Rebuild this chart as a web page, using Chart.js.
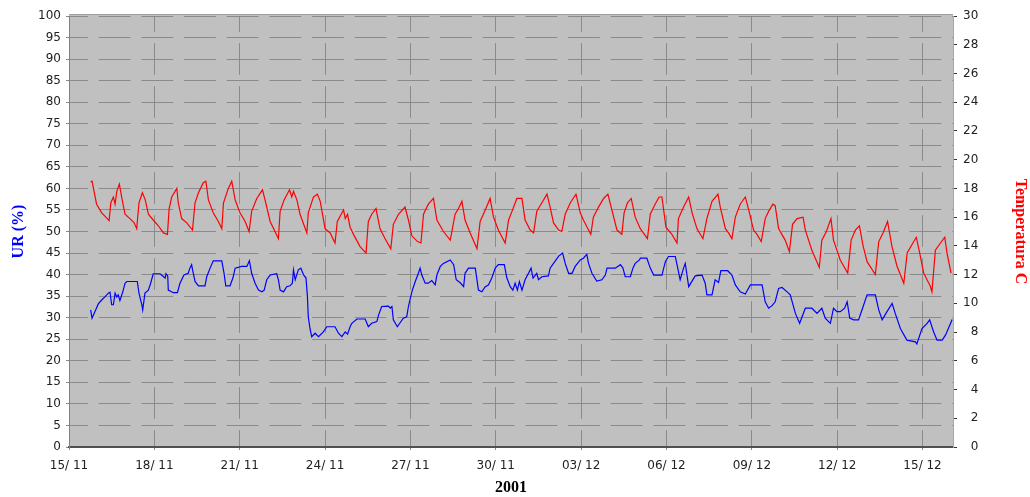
<!DOCTYPE html>
<html lang="pt">
<head>
    <meta charset="UTF-8">
    <title>UR e Temperatura - 2001</title>
    <script src="https://cdn.jsdelivr.net/npm/chart.js"></script>
    <style>
        body {
            margin: 0;
            padding: 0;
            background: #fff;
        }
        #wrap {
            position: relative;
            width: 1030px;
            height: 497px;
        }
    </style>
</head>
<body>

<div id="wrap">
    <canvas id="climaChart"></canvas>
</div>

<script>
    // x values are days counted from 15/11 00:00
    const xTickDays = [0, 3, 6, 9, 12, 15, 18, 21, 24, 27, 30];
    const xTickLabels = ['15/ 11', '18/ 11', '21/ 11', '24/ 11', '27/ 11', '30/ 11',
                         '03/ 12', '06/ 12', '09/ 12', '12/ 12', '15/ 12'];

    // temperature (C), right axis
    const tempDays = [
        0.76,0.81,0.97,1.15,1.27,1.41,1.47,1.56,1.62,1.68,
        1.77,1.85,1.97,2.14,2.29,2.38,2.46,2.58,2.68,2.79,
        2.96,3.14,3.32,3.46,3.52,3.61,3.79,3.84,3.96,4.14,
        4.34,4.43,4.55,4.72,4.81,4.90,5.07,5.25,5.37,5.43,
        5.60,5.72,5.84,6.01,6.19,6.33,6.42,6.60,6.80,6.89,
        7.07,7.24,7.36,7.42,7.56,7.75,7.83,7.89,8.01,8.12,
        8.36,8.41,8.59,8.73,8.83,9.00,9.18,9.35,9.43,9.65,
        9.71,9.79,9.88,10.00,10.23,10.44,10.52,10.64,10.79,10.93,
        11.11,11.31,11.40,11.58,11.81,11.93,12.05,12.25,12.37,12.46,
        12.63,12.81,12.93,13.16,13.40,13.57,13.69,13.81,13.92,14.10,
        14.34,14.45,14.63,14.80,14.92,15.09,15.33,15.45,15.57,15.74,
        15.92,16.03,16.21,16.33,16.44,16.62,16.80,16.91,17.03,17.21,
        17.32,17.44,17.62,17.82,17.97,18.08,18.26,18.34,18.43,18.61,
        18.79,18.94,19.08,19.26,19.43,19.51,19.63,19.76,19.90,20.08,
        20.33,20.43,20.60,20.74,20.84,20.98,21.19,21.37,21.42,21.60,
        21.78,21.90,22.07,22.28,22.42,22.60,22.81,22.89,23.07,23.18,
        23.30,23.42,23.59,23.77,23.89,24.06,24.18,24.33,24.47,24.59,
        24.74,24.82,24.94,25.17,25.32,25.43,25.59,25.80,25.88,26.11,
        26.37,26.46,26.62,26.78,26.87,27.11,27.37,27.49,27.64,27.78,
        27.91,28.05,28.34,28.46,28.61,28.77,28.92,29.10,29.34,29.46,
        29.63,29.78,29.90,30.04,30.27,30.33,30.45,30.63,30.78,30.86,
        31.00
    ];
    const tempValues = [
        18.45,18.5,16.9,16.3,16.05,15.75,17.0,17.4,16.9,17.8,
        18.3,17.4,16.2,15.9,15.6,15.2,17.0,17.7,17.2,16.2,
        15.8,15.4,14.9,14.8,16.6,17.4,18.0,17.0,15.9,15.6,
        15.1,17.0,17.7,18.4,18.5,17.2,16.3,15.7,15.2,17.0,
        18.0,18.5,17.2,16.3,15.7,15.0,16.4,17.3,17.9,17.2,
        15.7,15.0,14.5,16.4,17.2,17.9,17.4,17.8,17.2,16.2,
        14.9,16.3,17.4,17.6,17.1,15.2,14.9,14.2,15.7,16.5,
        15.9,16.2,15.3,14.8,13.95,13.5,15.7,16.2,16.6,15.2,
        14.5,13.8,15.5,16.2,16.7,15.8,14.7,14.3,14.2,16.2,
        16.9,17.3,15.8,15.0,14.4,16.2,16.6,17.1,15.8,14.9,
        13.8,15.7,16.5,17.3,16.0,15.1,14.2,15.8,16.4,17.3,
        17.3,15.8,15.1,14.9,16.4,17.0,17.6,16.7,15.6,15.1,
        15.0,16.2,17.0,17.6,16.3,15.8,15.1,14.8,16.0,16.7,
        17.3,17.6,16.5,15.1,14.8,16.3,17.0,17.3,16.0,15.2,
        14.5,16.2,16.9,17.4,17.4,15.3,14.8,14.2,15.9,16.7,
        17.4,16.3,15.2,14.5,15.9,17.1,17.6,16.7,15.2,14.9,
        14.5,16.0,16.9,17.4,16.5,15.1,14.8,14.3,15.9,16.4,
        16.9,16.8,15.2,14.4,13.6,15.5,15.9,16.0,15.1,13.7,
        12.5,14.4,15.0,15.9,14.4,13.0,12.1,14.4,15.1,15.4,
        14.0,12.9,12.0,14.3,14.9,15.7,14.0,12.6,11.4,13.5,
        14.1,14.6,13.5,12.1,11.2,10.8,13.7,14.2,14.6,13.5,
        12.1
    ];

    // relative humidity (%), left axis
    const urDays = [
        0.76,0.81,0.91,1.03,1.15,1.27,1.38,1.44,1.50,1.56,
        1.62,1.68,1.73,1.79,1.89,1.97,2.03,2.40,2.46,2.56,
        2.59,2.67,2.79,2.87,2.96,3.20,3.38,3.41,3.47,3.49,
        3.67,3.81,3.90,4.04,4.19,4.25,4.31,4.34,4.43,4.55,
        4.78,4.84,4.96,5.07,5.37,5.45,5.51,5.66,5.76,5.84,
        6.07,6.25,6.34,6.42,6.54,6.66,6.78,6.86,6.95,7.07,
        7.30,7.36,7.42,7.54,7.65,7.77,7.85,7.89,7.95,8.06,
        8.15,8.24,8.33,8.38,8.41,8.47,8.53,8.65,8.77,8.94,
        9.06,9.24,9.35,9.47,9.59,9.71,9.79,9.88,9.94,10.12,
        10.41,10.52,10.64,10.82,10.88,10.99,11.23,11.29,11.35,11.40,
        11.54,11.75,11.87,11.93,12.05,12.17,12.28,12.34,12.40,12.52,
        12.63,12.75,12.87,12.93,13.05,13.16,13.40,13.52,13.61,13.75,
        13.87,13.92,14.04,14.28,14.39,14.51,14.63,14.74,14.86,14.98,
        15.09,15.30,15.39,15.51,15.60,15.68,15.76,15.83,15.92,16.03,
        16.15,16.24,16.31,16.44,16.50,16.62,16.85,16.91,17.03,17.21,
        17.35,17.44,17.56,17.68,17.79,17.97,18.08,18.20,18.26,18.38,
        18.55,18.73,18.85,18.91,19.20,19.38,19.47,19.55,19.73,19.82,
        19.90,20.05,20.08,20.31,20.43,20.55,20.84,20.96,21.07,21.31,
        21.37,21.48,21.60,21.66,21.78,22.01,22.25,22.36,22.42,22.60,
        22.71,22.83,22.91,23.15,23.30,23.42,23.59,23.77,23.95,24.36,
        24.47,24.59,24.71,24.82,24.94,25.06,25.24,25.35,25.53,25.68,
        25.88,26.11,26.29,26.46,26.58,26.76,26.87,26.99,27.11,27.26,
        27.35,27.44,27.58,27.75,27.87,28.05,28.34,28.46,28.58,28.75,
        28.93,29.04,29.22,29.45,29.75,29.80,29.98,30.16,30.25,30.39,
        30.51,30.69,30.81,31.04
    ];
    const urValues = [
        31.8,29.9,31.4,33.2,34.1,34.9,35.7,35.9,33.0,33.0,
        35.7,34.8,35.3,34.0,36.0,38.0,38.4,38.4,35.7,33.0,
        31.8,35.7,36.4,38.0,40.2,40.2,39.2,40.2,39.7,36.4,
        35.8,35.8,38.0,39.9,40.3,41.5,42.3,41.2,38.4,37.4,
        37.4,39.5,41.5,43.2,43.2,40.3,37.4,37.4,39.2,41.5,
        41.9,41.9,43.2,40.3,38.0,36.4,36.0,36.4,38.8,39.9,
        40.2,38.8,36.4,36.0,37.2,37.4,38.0,41.1,38.8,41.1,
        41.5,40.0,39.2,34.9,30.2,27.5,25.6,26.4,25.6,26.7,
        27.9,27.9,27.9,26.4,25.6,26.7,26.2,27.9,28.7,29.7,
        29.7,27.9,28.7,29.1,30.6,32.6,32.7,32.2,32.6,29.5,
        27.9,29.9,30.2,32.6,36.0,38.4,40.3,41.5,39.9,38.0,
        38.0,38.6,37.6,39.9,41.9,42.6,43.4,42.3,38.8,38.1,
        37.2,40.3,41.5,41.5,36.4,36.0,37.2,37.6,39.2,41.5,
        42.3,42.3,39.2,37.2,36.4,38.0,36.4,38.4,36.4,38.8,
        40.3,41.5,39.2,40.3,38.8,39.5,39.7,41.5,42.6,44.3,
        45.0,42.6,40.3,40.3,41.9,43.4,43.8,44.7,42.6,40.3,
        38.5,38.8,39.9,41.5,41.5,42.3,41.5,39.5,39.5,41.5,
        42.6,43.4,43.8,43.8,41.5,39.9,39.9,43.0,44.2,44.2,
        42.3,38.8,41.5,42.6,37.2,39.7,39.9,38.0,35.3,35.3,
        38.8,38.2,40.9,40.9,39.9,37.6,36.0,35.5,37.6,37.6,
        33.7,32.2,32.8,33.7,36.8,37.0,36.0,35.3,31.0,28.7,
        32.2,32.2,31.0,32.2,29.9,28.7,32.2,31.4,31.4,32.2,
        33.7,29.9,29.5,29.5,31.8,35.3,35.3,31.8,29.5,31.4,
        33.3,31.0,27.5,24.8,24.4,23.9,27.5,28.7,29.5,26.7,
        24.8,24.8,26.0,29.6
    ];

    const toPoints = (days, vals) => days.map((d, i) => ({ x: d, y: vals[i] }));

    // grey plot area plus the thin top frame line
    const plotBackground = {
        id: 'plotBackground',
        beforeDraw(chart) {
            const { ctx, chartArea: a } = chart;
            ctx.save();
            ctx.fillStyle = '#c0c0c0';
            ctx.fillRect(a.left, a.top - 2, a.right - a.left, a.bottom - a.top + 2);
            ctx.strokeStyle = '#a0a0a0';
            ctx.lineWidth = 1;
            ctx.beginPath();
            ctx.moveTo(a.left, Math.round(a.top) - 1.5);
            ctx.lineTo(a.right, Math.round(a.top) - 1.5);
            ctx.stroke();
            ctx.restore();
        }
    };

    const titleFont = { family: "'Liberation Serif', 'Times New Roman', serif", size: 16, weight: 'bold' };
    const tickFont = { family: "'DejaVu Sans', Verdana, sans-serif", size: 12 };

    const ctx = document.getElementById('climaChart').getContext('2d');
    new Chart(ctx, {
        type: 'line',
        data: {
            datasets: [
                {
                    label: 'UR (%)',
                    data: toPoints(urDays, urValues),
                    yAxisID: 'yUR',
                    borderColor: '#0000ff',
                    borderWidth: 1.2,
                    pointRadius: 0,
                    tension: 0,
                    fill: false
                },
                {
                    label: 'Temperatura C',
                    data: toPoints(tempDays, tempValues),
                    yAxisID: 'yT',
                    borderColor: '#ff0000',
                    borderWidth: 1.2,
                    pointRadius: 0,
                    tension: 0,
                    fill: false
                }
            ]
        },
        options: {
            responsive: true,
            maintainAspectRatio: false,
            animation: false,
            layout: { padding: { top: 16, left: 0, right: 0, bottom: 0 } },
            plugins: {
                legend: { display: false },
                tooltip: { enabled: false }
            },
            scales: {
                x: {
                    type: 'linear',
                    min: 0,
                    max: 31.07,
                    afterBuildTicks(scale) {
                        scale.ticks = xTickDays.map(v => ({ value: v }));
                    },
                    afterFit(scale) { scale.height = 50; },
                    ticks: {
                        autoSkip: false,
                        maxRotation: 0,
                        padding: 9,
                        color: '#222',
                        font: tickFont,
                        callback: (v, i) => xTickLabels[i]
                    },
                    grid: { color: '#8a8a8a', lineWidth: 1, tickLength: 3, tickColor: '#8a8a8a' },
                    border: { color: '#505050', width: 2, dash: [31.7, 11.3], dashOffset: 15.85 },
                    title: { display: true, text: '2001', color: '#000', font: titleFont, padding: { top: 0, bottom: 0 } }
                },
                yUR: {
                    position: 'left',
                    min: 0,
                    max: 100,
                    afterFit(scale) { scale.width = 69; },
                    ticks: { stepSize: 5, padding: 5, color: '#222', font: tickFont },
                    grid: { color: '#8a8a8a', lineWidth: 1, tickLength: 3, tickColor: '#8a8a8a' },
                    border: { color: '#808080', width: 1, dash: [31.7, 10.97], dashOffset: 13.9 },
                    title: { display: true, text: 'UR (%)', color: '#0000ff', font: titleFont, padding: { top: 9, bottom: 0 } }
                },
                yT: {
                    position: 'right',
                    min: 0,
                    max: 30,
                    afterFit(scale) { scale.width = 77; },
                    ticks: {
                        stepSize: 2,
                        padding: 6,
                        color: '#222',
                        font: tickFont,
                        callback: v => (v < 10 ? '\u2007' : '') + v
                    },
                    grid: { drawOnChartArea: false, tickLength: 4, tickColor: '#333' },
                    border: { color: '#a8a8a8', width: 1 },
                    title: { display: true, text: 'Temperatura C', color: '#ff0000', font: titleFont, padding: { top: 0, bottom: 0 } }
                }
            }
        },
        plugins: [plotBackground]
    });
</script>

</body>
</html>
